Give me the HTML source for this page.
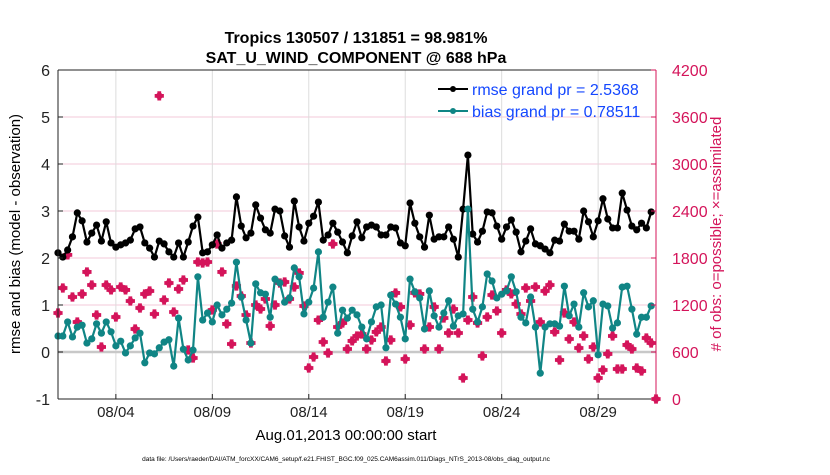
<!DOCTYPE html>
<html><head><meta charset="utf-8">
<style>
html,body{margin:0;padding:0;background:#fff;}
body{width:830px;height:470px;overflow:hidden;font-family:"Liberation Sans",Arial,sans-serif;}
svg text{font-family:"Liberation Sans",Arial,sans-serif;}
</style></head>
<body>
<svg id="chart" width="830" height="470" viewBox="0 0 830 470" xmlns="http://www.w3.org/2000/svg">
<rect x="0" y="0" width="830" height="470" fill="#fff"/>
<g id="grid"></g>
<g id="marks"></g>
<g id="axes"></g>
<text x="356" y="43" text-anchor="middle" font-size="16" font-weight="bold">Tropics 130507 / 131851 = 98.981%</text>
<text x="356" y="63" text-anchor="middle" font-size="16" font-weight="bold">SAT_U_WIND_COMPONENT @ 688 hPa</text>
<text x="346" y="440" text-anchor="middle" font-size="15">Aug.01,2013 00:00:00 start</text>
<text x="346" y="461" text-anchor="middle" font-size="6.5">data file: /Users/raeder/DAI/ATM_forcXX/CAM6_setup/f.e21.FHIST_BGC.f09_025.CAM6assim.011/Diags_NTrS_2013-08/obs_diag_output.nc</text>
<text transform="translate(20,234) rotate(-90)" text-anchor="middle" font-size="15">rmse and bias (model - observation)</text>
<text transform="translate(721,234) rotate(-90)" text-anchor="middle" font-size="15" fill="#d4145a">#  of obs: o=possible; ×=assimilated</text>
<g>
  <line x1="438" y1="89" x2="468" y2="89" stroke="#000" stroke-width="2"/>
  <circle cx="453" cy="89" r="3" fill="#000"/>
  <text x="472" y="95" font-size="16" fill="#1447ff">rmse grand pr = 2.5368</text>
  <line x1="438" y1="111" x2="468" y2="111" stroke="#108585" stroke-width="2"/>
  <circle cx="453" cy="111" r="3" fill="#108585"/>
  <text x="472" y="117" font-size="16" fill="#1447ff">bias grand pr = 0.78511</text>
</g>
</svg>
<script>
const rmse = [2.11,2.02,2.17,2.45,2.96,2.79,2.34,2.53,2.70,2.36,2.77,2.32,2.23,2.28,2.32,2.38,2.62,2.66,2.32,2.21,2.02,2.36,2.30,2.13,2.02,2.32,2.02,2.34,2.68,2.87,
2.11,2.13,2.28,2.49,2.21,2.32,2.38,3.30,2.68,2.43,2.53,3.13,2.85,2.60,2.53,3.04,3.00,2.47,2.23,3.21,2.66,2.36,2.74,2.89,3.19,2.38,2.49,2.74,2.55,
2.34,2.11,2.47,2.77,2.43,2.66,2.70,2.66,2.49,2.49,2.66,2.64,2.32,2.26,3.17,2.74,2.45,2.23,2.91,2.40,2.45,2.45,2.66,2.40,2.02,3.04,4.19,2.51,2.34,
2.57,2.98,2.96,2.68,2.40,2.66,2.81,2.55,2.13,2.36,2.62,2.30,2.26,2.19,2.11,2.38,2.36,2.72,2.57,2.57,2.40,3.00,2.77,2.45,2.79,3.26,2.83,2.64,2.64,3.38,
3.02,2.68,2.60,2.74,2.64,2.98];
const bias = [0.34,0.34,0.64,0.32,0.53,0.57,0.19,0.28,0.60,0.40,0.64,0.43,0.13,0.23,-0.02,0.13,0.30,0.40,-0.23,-0.02,-0.04,0.09,0.21,0.26,-0.30,0.72,0.06,-0.17,0.04,1.60,
0.68,0.83,0.64,1.00,0.79,0.91,1.04,1.91,1.17,0.68,0.19,1.45,1.26,1.23,0.74,1.55,1.47,1.06,1.15,1.79,1.60,0.81,1.06,1.36,2.13,0.74,1.06,1.38,0.40,
0.89,0.72,0.89,0.79,0.53,0.28,0.64,0.96,1.00,0.09,1.21,1.02,0.74,0.28,1.55,1.28,1.15,0.49,1.30,0.77,0.53,0.83,1.09,0.55,0.77,0.81,3.04,0.91,0.64,
0.96,1.66,1.51,1.15,1.23,1.30,1.60,1.28,0.74,0.62,1.17,0.53,-0.45,0.53,0.60,0.60,0.55,1.40,0.77,1.02,0.53,1.26,0.96,1.09,-0.06,1.02,0.98,0.51,0.62,1.38,
1.40,0.91,0.38,0.74,0.74,0.98];
const nobs = [1098,1417,1840,1302,983,1340,1622,1455,1072,664,1455,1392,1047,1430,1392,1251,894,1162,1340,1379,1085,3870,1264,1481,1111,1404,1519,626,523,1749,
1736,1749,1136,1979,1622,958,702,1443,1315,1072,715,1200,1149,1277,932,1200,1481,1494,1277,1430,1609,1187,396,536,1008,728,587,1979,919,
970,638,741,804,830,638,753,856,919,485,753,1354,1175,511,945,1354,1341,638,919,1175,638,1034,843,1149,843,268,1008,1302,970,
549,1047,1328,1124,843,1392,1341,1213,1085,1417,1251,1430,983,1379,1455,856,498,1098,766,983,651,804,511,664,268,370,575,804,383,383,
690,638,396,357,779,715,0];
const xTickDays = [3,8,13,18,23,28];
const xTickLabels = ["08/04","08/09","08/14","08/19","08/24","08/29"];
const leftTicks = [-1,0,1,2,3,4,5,6];
const rightTicks = [0,600,1200,1800,2400,3000,3600,4200];
const stepDays = 0.25;

const L=58, R=656, T=70, B=399;
const xs = d => L + (d/31)*(R-L);
const yl = v => B - (v+1)/7*(B-T);
const yr = v => B - v/4200*(B-T);
const NS="http://www.w3.org/2000/svg";
function mk(tag, parent){const e=document.createElementNS(NS,tag);parent.appendChild(e);return e;}
const grid=document.getElementById('grid'), marks=document.getElementById('marks'), axes=document.getElementById('axes');

rightTicks.forEach(v=>{
  const ln=mk('line',grid);
  
  
  ln.setAttribute('x1',L);ln.setAttribute('x2',R);ln.setAttribute('y1',yr(v));ln.setAttribute('y2',yr(v));
  ln.setAttribute('stroke','#f3c9d8');ln.setAttribute('stroke-width','1');
});
xTickDays.forEach(d=>{
  const ln=mk('line',grid);
  
  
  ln.setAttribute('x1',xs(d));ln.setAttribute('x2',xs(d));ln.setAttribute('y1',T);ln.setAttribute('y2',B);
  ln.setAttribute('stroke','#dcdcdc');ln.setAttribute('stroke-width','1');
});
const zl=mk('line',grid);


zl.setAttribute('x1',L);zl.setAttribute('x2',R);zl.setAttribute('y1',yl(0));zl.setAttribute('y2',yl(0));
zl.setAttribute('stroke','#c8c8c8');zl.setAttribute('stroke-width','2.5');

nobs.forEach((v,i)=>{
  const x=xs(i*stepDays), y=yr(v);
  const g=mk('path',marks);
  
  
  const s=4.6, w=1.9;
  g.setAttribute('d',`M${x-w},${y-s}h${2*w}v${s-w}h${s-w}v${2*w}h-${s-w}v${s-w}h-${2*w}v-${s-w}h-${s-w}v-${2*w}h${s-w}z`);
  g.setAttribute('fill','#d4145a');
  const c=mk('circle',marks);
  
  
  c.setAttribute('cx',x);c.setAttribute('cy',y);c.setAttribute('r',3.4);c.setAttribute('fill','#d4145a');
});

function series(vals,color,name){
  const p=mk('polyline',marks);
  
  
  p.setAttribute('points',vals.map((v,i)=>xs(i*stepDays).toFixed(1)+','+yl(v).toFixed(1)).join(' '));
  p.setAttribute('fill','none');p.setAttribute('stroke',color);p.setAttribute('stroke-width','2.2');p.setAttribute('stroke-linejoin','round');
  vals.forEach((v,i)=>{
    const c=mk('circle',marks);
    
    
    c.setAttribute('cx',xs(i*stepDays));c.setAttribute('cy',yl(v));c.setAttribute('r',3.6);c.setAttribute('fill',color);
  });
}
series(rmse,'#000','rmse');
series(bias,'#108585','bias');

[[L,T,L,B,'#222','left-axis'],[L,B,R,B,'#222','bottom-axis'],[L,T,R,T,'#222','top-axis'],[R,T,R,B,'#d4145a','right-axis']].forEach(a=>{
  const ln=mk('line',axes);
  
  
  ln.setAttribute('x1',a[0]);ln.setAttribute('y1',a[1]);ln.setAttribute('x2',a[2]);ln.setAttribute('y2',a[3]);
  ln.setAttribute('stroke',a[4]);ln.setAttribute('stroke-width','1');
});
leftTicks.forEach(v=>{
  const t=mk('text',axes);
  
  
  t.setAttribute('x',L-8);t.setAttribute('y',yl(v)+6);t.setAttribute('text-anchor','end');t.setAttribute('font-size','16');t.setAttribute('fill','#222');
  t.textContent=v;
  const tk=mk('line',axes);
  
  
  tk.setAttribute('x1',L);tk.setAttribute('x2',L+5);tk.setAttribute('y1',yl(v));tk.setAttribute('y2',yl(v));tk.setAttribute('stroke','#222');
});
rightTicks.forEach(v=>{
  const t=mk('text',axes);
  
  
  t.setAttribute('x',R+16);t.setAttribute('y',yr(v)+6);t.setAttribute('font-size','16');t.setAttribute('fill','#d4145a');
  t.textContent=v;
  const tk=mk('line',axes);
  
  
  tk.setAttribute('x1',R-5);tk.setAttribute('x2',R);tk.setAttribute('y1',yr(v));tk.setAttribute('y2',yr(v));tk.setAttribute('stroke','#d4145a');
});
xTickDays.forEach((d,i)=>{
  const t=mk('text',axes);
  
  
  t.setAttribute('x',xs(d));t.setAttribute('y',B+18);t.setAttribute('text-anchor','middle');t.setAttribute('font-size','15');t.setAttribute('fill','#222');
  t.textContent=xTickLabels[i];
  const tk=mk('line',axes);
  
  
  tk.setAttribute('x1',xs(d));tk.setAttribute('x2',xs(d));tk.setAttribute('y1',B-5);tk.setAttribute('y2',B);tk.setAttribute('stroke','#222');
});
</script>
</body></html>
